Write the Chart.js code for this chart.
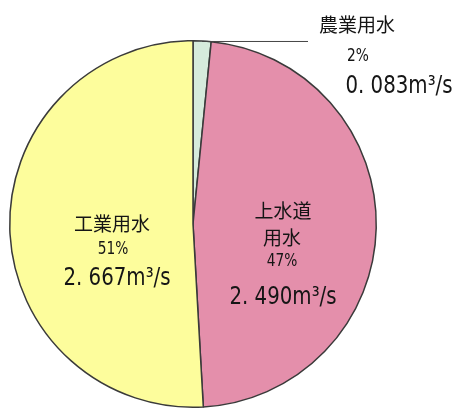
<!DOCTYPE html>
<html>
<head>
<meta charset="utf-8">
<script src="https://cdn.jsdelivr.net/npm/chart.js@4/dist/chart.umd.min.js"></script>
<style>
  html, body { margin: 0; padding: 0; background: #fff; }
  #wrap { width: 452px; height: 413px; }
</style>
</head>
<body>
<div id="wrap"><canvas id="pieChart" width="452" height="413"></canvas></div>
<script>
// water use, m3/s (clockwise from 12 o'clock)
const categories = ['農業用水', '上水道用水', '工業用水'];
const flows = [0.083, 2.490, 2.667];
const percentLabels = ['2%', '47%', '51%'];
const flowLabels = ['0. 083m³/s', '2. 490m³/s', '2. 667m³/s'];
const nameLines = [['農業用水'], ['上水道', '用水'], ['工業用水']];
const sliceColors = ['#d6ebdc', '#e48fab', '#fdfd9c'];

const CJK = '"Noto Sans CJK JP", "Noto Sans", sans-serif';
const NUM = '"DejaVu Sans Condensed", "Liberation Sans", sans-serif';

// where each label block sits (style only, not data)
const labelSpots = [
  { name: [[357, 25]], pct: [358, 57], flow: [399, 86], leader: true },
  { name: [[283, 211], [282, 238]], pct: [282, 262], flow: [283, 297] },
  { name: [[112, 224]], pct: [113, 250], flow: [117, 278] }
];

function drawText(ctx, text, x, y, size, family, scaleX) {
  ctx.save();
  ctx.translate(x, y);
  ctx.scale(scaleX || 1, 1);
  ctx.font = size + 'px ' + family;
  ctx.textAlign = 'center';
  ctx.textBaseline = 'middle';
  ctx.fillStyle = '#151515';
  ctx.fillText(text, 0, 0);
  ctx.restore();
}

const labelPlugin = {
  id: 'sliceLabels',
  afterDraw(chart) {
    const ctx = chart.ctx;
    const arcs = chart.getDatasetMeta(0).data;
    labelSpots.forEach((spot, i) => {
      if (spot.leader) {
        const arc = arcs[i];
        const mid = (arc.startAngle + arc.endAngle) / 2;
        const tx = arc.x + Math.cos(mid) * arc.outerRadius;
        const ty = arc.y + Math.sin(mid) * arc.outerRadius;
        ctx.save();
        ctx.strokeStyle = '#444';
        ctx.lineWidth = 1;
        ctx.beginPath();
        ctx.moveTo(tx, ty + 0.5);
        ctx.lineTo(308, ty + 0.5);
        ctx.stroke();
        ctx.restore();
      }
      nameLines[i].forEach((line, j) => {
        drawText(ctx, line, spot.name[j][0], spot.name[j][1], 19, CJK, 1);
      });
      drawText(ctx, percentLabels[i], spot.pct[0], spot.pct[1], 17, NUM, 0.9);
      drawText(ctx, flowLabels[i], spot.flow[0], spot.flow[1], 25, NUM, 0.88);
    });
  }
};

new Chart(document.getElementById('pieChart'), {
  type: 'pie',
  data: {
    labels: categories,
    datasets: [{
      data: flows,
      backgroundColor: sliceColors,
      borderColor: '#3a3a3a',
      borderWidth: 1.5,
      hoverOffset: 0
    }]
  },
  options: {
    responsive: false,
    animation: false,
    layout: { padding: { left: 9, right: 75, top: 40, bottom: 5 } },
    plugins: {
      legend: { display: false },
      tooltip: { enabled: false }
    }
  },
  plugins: [labelPlugin]
});
</script>
</body>
</html>
